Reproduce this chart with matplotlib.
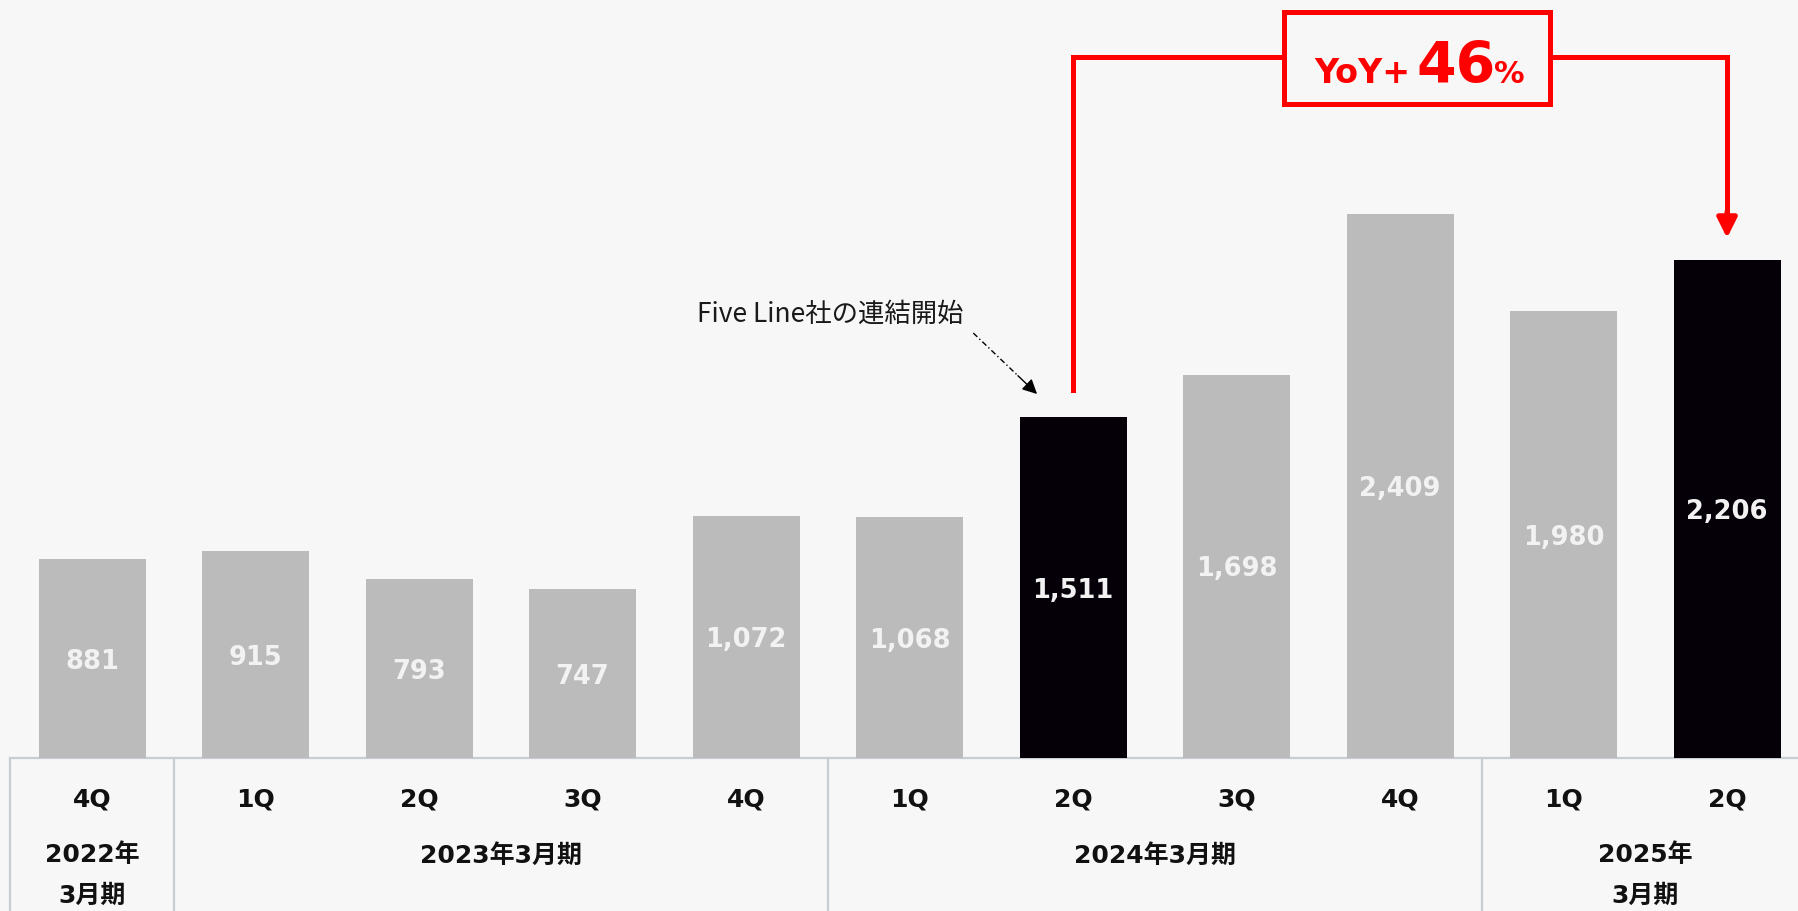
import matplotlib
matplotlib.use("Agg")
import matplotlib.pyplot as plt
from matplotlib.patches import Rectangle
from matplotlib.transforms import blended_transform_factory

plt.rcParams['font.family'] = ['DejaVu Sans', 'Noto Sans CJK JP']

# ---- data ----
quarters = ["4Q", "1Q", "2Q", "3Q", "4Q", "1Q", "2Q", "3Q", "4Q", "1Q", "2Q"]
values = [881, 915, 793, 747, 1072, 1068, 1511, 1698, 2409, 1980, 2206]
highlight = [False, False, False, False, False, False, True, False, False, False, True]
fiscal_years = ["2022年\n3月期", "2023年3月期", "2024年3月期", "2025年\n3月期"]
fy_sizes = [1, 4, 4, 2]
note_text = "Five Line社の連結開始"
yoy_prefix = "YoY+"
yoy_number = "46"
yoy_suffix = "%"

BG = "#F7F7F7"
GRAY = "#BBBBBB"
BLACK = "#050008"
RED = "#FF0000"
TABLE_LINE = "#C9CCD3"

W, H = 1798, 911
fig = plt.figure(figsize=(W / 100, H / 100), dpi=100, facecolor=BG)
base_px = 758
ax = fig.add_axes([0, (H - base_px) / H, 1, base_px / H])
ax.set_facecolor(BG)
ax.set_xlim(-0.563, 10.434)
ax.set_ylim(0, 3357)
ax.axis("off")

x = list(range(len(values)))
colors = [BLACK if h else GRAY for h in highlight]
bars = ax.bar(x, values, width=0.654, color=colors, zorder=2)
for xi, v in zip(x, values):
    ax.text(xi, v / 2 - 14, f"{v:,}", ha="center", va="center", color="#F2F2F2",
            fontsize=18.5, fontweight="bold", zorder=3)

# ---- table below ----
tr = blended_transform_factory(ax.transData, fig.transFigure)
def fy(px):
    return 1 - px / H

ax.plot([-0.5, 10.434], [fy(base_px)] * 2, transform=tr, color=TABLE_LINE,
        lw=1.6, clip_on=False, zorder=1)
bounds = [-0.5]
for s in fy_sizes:
    bounds.append(bounds[-1] + s)
for b in bounds[:-1]:
    ax.plot([b, b], [fy(base_px), 0], transform=tr, color=TABLE_LINE,
            lw=1.6, clip_on=False)

for xi, q in zip(x, quarters):
    ax.text(xi, fy(800), q, transform=tr, ha="center", va="center",
            fontsize=18, fontweight="bold", color="#111111")

for i, (label, s) in enumerate(zip(fiscal_years, fy_sizes)):
    cx = (bounds[i] + bounds[i + 1]) / 2
    lines = label.split("\n")
    if len(lines) == 1:
        ax.text(cx, fy(856), lines[0], transform=tr, ha="center", va="center",
                fontsize=18, fontweight="bold", color="#111111")
    else:
        for k, ln in enumerate(lines):
            ax.text(cx, fy(855 + 41 * k), ln, transform=tr, ha="center",
                    va="center", fontsize=18, fontweight="bold", color="#111111")

# ---- annotation: consolidation start ----
ax.text(5.33, 1966, note_text, ha="right", va="center", fontsize=19,
        color="#1A1A1A", family=['Noto Sans CJK JP', 'DejaVu Sans'])
start = (5.39, 1882)
tip = (5.78, 1612)
mid = (tip[0] - 0.3 * (tip[0] - start[0]), tip[1] - 0.3 * (tip[1] - start[1]))
ax.plot([start[0], mid[0]], [start[1], mid[1]], color="black", lw=1,
        linestyle=(0, (4, 2, 1, 2)))
ax.annotate("", xy=tip, xytext=mid,
            arrowprops=dict(arrowstyle="-|>", color="black", lw=1,
                            mutation_scale=22, shrinkA=0, shrinkB=0))

# ---- YoY connector ----
i0, i1 = 6, 10
y_top = 3105
ax.plot([i0, i0, i1, i1], [1630, y_top, y_top, 2400], color=RED, lw=3.6,
        solid_joinstyle="miter", zorder=4)
ax.annotate("", xy=(i1, 2303), xytext=(i1, 2420),
            arrowprops=dict(arrowstyle="-|>", color=RED, lw=3.6,
                            mutation_scale=30, shrinkA=0, shrinkB=0), zorder=5)
ax.add_patch(Rectangle((7.29, 2896), 8.92 - 7.29, 3304 - 2896,
                       facecolor=BG, edgecolor=RED, lw=3.6, zorder=6))
yb = 2989
ax.text(7.474, yb, yoy_prefix, ha="left", va="baseline", fontsize=24,
        fontweight="bold", color=RED, zorder=7)
ax.text(8.10, yb, yoy_number, ha="left", va="baseline", fontsize=41,
        fontweight="bold", color=RED, zorder=7)
ax.text(8.575, yb, yoy_suffix, ha="left", va="baseline", fontsize=22,
        fontweight="bold", color=RED, zorder=7)

fig.savefig("out.png", dpi=100, facecolor=BG)
